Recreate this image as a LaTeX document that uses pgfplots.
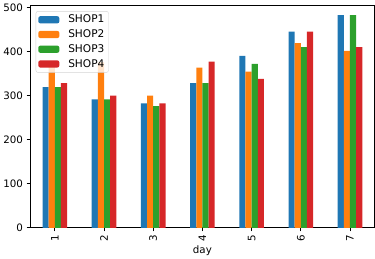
\documentclass[border=0pt]{standalone}
\usepackage{pgfplots}
\pgfplotsset{compat=1.18}
\usepackage{fontspec}
\setmainfont{DejaVu Sans}
\definecolor{c1}{HTML}{1F77B4}
\definecolor{c2}{HTML}{FF7F0E}
\definecolor{c3}{HTML}{2CA02C}
\definecolor{c4}{HTML}{D62728}
\pgfplotsset{
  /pgfplots/ybar legend/.style={/pgfplots/legend image code/.code={%
    \draw[draw=none, fill=none] (-0.5bp,-3.5bp) rectangle (27bp,3.5bp);
    \fill[##1, fill opacity=1] (0bp,-3.5bp) rectangle (20.5bp,3.5bp);}},
}
\begin{document}
\fontsize{10bp}{12bp}\selectfont
\begin{tikzpicture}
\begin{axis}[
  scale only axis,
  width=335.5bp, height=216.6bp,
  xmin=-0.5, xmax=6.5,
  ymin=0, ymax=504,
  xtick={0,1,2,3,4,5,6},
  xticklabels={1,2,3,4,5,6,7},
  ytick={0,100,200,300,400,500},
  xticklabel style={rotate=90, anchor=east},
  tick align=outside,
  major tick length=3.5bp,
  tick style={black, line width=0.8bp},
  axis line style={line width=0.8bp},
  xtick pos=bottom, ytick pos=left,
  /pgf/number format/assume math mode=true,
  ticklabel style={font=\fontsize{10bp}{12bp}\selectfont},
  xlabel={day},
  xlabel style={font=\fontsize{10bp}{12bp}\selectfont, yshift=3bp},
  ybar=0pt, bar width=0.125,
  legend style={draw=black!17, fill=white, fill opacity=0.8, draw opacity=1, text opacity=1,
    rounded corners=2bp, font=\fontsize{10.3bp}{12bp}\selectfont,
    at={(0.016,0.975)}, anchor=north west, row sep=4.2bp, inner xsep=1.8bp, inner ysep=3.2bp,
    nodes={inner xsep=2.2bp, inner ysep=0.5bp}},
  legend cell align=left,
]
\addplot[fill=c1, draw=none, bar shift=-0.1875] coordinates {(0,319) (1,291) (2,282) (3,328) (4,390) (5,445) (6,482)};
\addplot[fill=c2, draw=none, bar shift=-0.0625] coordinates {(0,366) (1,375) (2,300) (3,363) (4,354) (5,419) (6,401)};
\addplot[fill=c3, draw=none, bar shift=0.0625] coordinates {(0,319) (1,291) (2,276) (3,328) (4,372) (5,410) (6,482)};
\addplot[fill=c4, draw=none, bar shift=0.1875] coordinates {(0,328) (1,300) (2,282) (3,377) (4,338) (5,445) (6,410)};
\legend{SHOP1,SHOP2,SHOP3,SHOP4}
\end{axis}
\end{tikzpicture}
\end{document}
